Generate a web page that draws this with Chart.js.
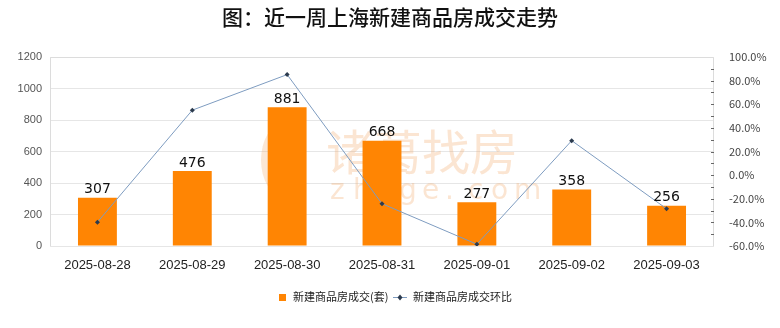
<!DOCTYPE html>
<html>
<head>
<meta charset="utf-8">
<script src="https://cdn.jsdelivr.net/npm/chart.js@4/dist/chart.umd.min.js"></script>
<style>
  html, body { margin: 0; padding: 0; background: #fff; }
  #wrap { position: relative; width: 780px; height: 328px; }
</style>
</head>
<body>
<div id="wrap"><canvas id="chart" width="780" height="328"></canvas></div>
<script>
const chartTitle = '图：近一周上海新建商品房成交走势';
const dates = ['2025-08-28', '2025-08-29', '2025-08-30', '2025-08-31', '2025-09-01', '2025-09-02', '2025-09-03'];
const deals = [307, 476, 881, 668, 277, 358, 256];
const dealChange = [-39.8, 55.0, 85.1, -24.2, -58.5, 29.2, -28.5];
const barLabel = '新建商品房成交(套)';
const lineLabel = '新建商品房成交环比';

const BAR_COLOR = '#ff8503';
const LINE_COLOR = '#7e9cc0';
const POINT_COLOR = '#2c3b4e';

// title, plot frame, watermark, value labels and legend
const decorations = {
  id: 'decorations',
  beforeDatasetsDraw(chart) {
    const { ctx, chartArea: a } = chart;
    ctx.save();
    // watermark
    ctx.fillStyle = 'rgba(242, 170, 105, 0.28)';
    ctx.beginPath();
    ctx.ellipse(283, 160, 22, 36, 0, 0, Math.PI * 2);
    ctx.fill();
    ctx.fillStyle = 'rgba(255, 255, 255, 0.55)';
    ctx.beginPath();
    ctx.ellipse(283, 164, 10, 26, 0, 0, Math.PI * 2);
    ctx.fill();
    ctx.fillStyle = 'rgba(242, 170, 105, 0.3)';
    ctx.font = '48px "Noto Sans CJK SC"';
    ctx.textAlign = 'left';
    ctx.textBaseline = 'middle';
    ctx.fillText('诸葛找房', 326, 152);
    ctx.font = '28px "DejaVu Sans"';
    const mark = 'zhuge.com'.split('');
    mark.forEach((c, i) => ctx.fillText(c, 330 + i * 23, 192));
    // plot frame
    ctx.strokeStyle = '#dcdcdc';
    ctx.lineWidth = 1;
    ctx.beginPath();
    ctx.moveTo(a.left + 0.5, a.bottom);
    ctx.lineTo(a.left + 0.5, a.top + 0.5);
    ctx.lineTo(a.right - 0.5, a.top + 0.5);
    ctx.lineTo(a.right - 0.5, a.bottom);
    ctx.stroke();
    // minor marks on the percent axis
    const y1 = chart.scales.y1;
    ctx.strokeStyle = '#666';
    for (let v = -50; v <= 90; v += 10) {
      const y = Math.round(y1.getPixelForValue(v)) + 0.5;
      ctx.beginPath();
      ctx.moveTo(a.right - 3, y);
      ctx.lineTo(a.right, y);
      ctx.stroke();
    }
    ctx.restore();
  },
  afterDraw(chart) {
    const { ctx } = chart;
    ctx.save();
    // title
    ctx.fillStyle = '#111';
    ctx.font = '500 21px "Noto Sans CJK SC"';
    ctx.textAlign = 'center';
    ctx.textBaseline = 'middle';
    ctx.fillText(chartTitle, 390, 17);
    // bar values
    ctx.font = '14px "DejaVu Sans"';
    ctx.textBaseline = 'bottom';
    const barMeta = chart.getDatasetMeta(1);
    barMeta.data.forEach((bar, i) => {
      ctx.fillText(String(deals[i]), bar.x, bar.y - 1);
    });
    // legend
    ctx.font = '11px "Noto Sans CJK SC"';
    ctx.textAlign = 'left';
    ctx.textBaseline = 'middle';
    const ly = 297;
    ctx.fillStyle = BAR_COLOR;
    ctx.fillRect(279, ly - 3, 7, 7);
    ctx.fillStyle = '#222';
    ctx.fillText(barLabel, 293, ly);
    ctx.strokeStyle = LINE_COLOR;
    ctx.lineWidth = 1;
    ctx.beginPath();
    ctx.moveTo(393, ly + 0.5);
    ctx.lineTo(407, ly + 0.5);
    ctx.stroke();
    ctx.fillStyle = POINT_COLOR;
    ctx.beginPath();
    ctx.moveTo(400, ly - 2.5);
    ctx.lineTo(402.5, ly + 0.5);
    ctx.lineTo(400, ly + 3.5);
    ctx.lineTo(397.5, ly + 0.5);
    ctx.closePath();
    ctx.fill();
    ctx.fillStyle = '#222';
    ctx.fillText(lineLabel, 413, ly);
    ctx.restore();
  }
};

new Chart(document.getElementById('chart').getContext('2d'), {
  type: 'bar',
  data: {
    labels: dates,
    datasets: [
      {
        type: 'line',
        label: lineLabel,
        data: dealChange,
        yAxisID: 'y1',
        borderColor: LINE_COLOR,
        borderWidth: 1,
        tension: 0,
        pointStyle: 'rectRot',
        pointRadius: 2.5,
        pointBackgroundColor: POINT_COLOR,
        pointBorderColor: POINT_COLOR,
        pointBorderWidth: 0,
        order: 0
      },
      {
        type: 'bar',
        label: barLabel,
        data: deals,
        yAxisID: 'y',
        backgroundColor: BAR_COLOR,
        categoryPercentage: 1,
        barPercentage: 0.41,
        order: 1
      }
    ]
  },
  options: {
    responsive: false,
    animation: false,
    layout: { padding: { top: 57, bottom: 52, left: 0, right: 0 } },
    plugins: {
      legend: { display: false },
      title: { display: false },
      tooltip: { enabled: false }
    },
    scales: {
      x: {
        grid: { display: false },
        border: { display: false },
        ticks: {
          color: '#222',
          font: { family: 'Liberation Sans', size: 13 },
          padding: 4,
          maxRotation: 0
        },
        afterFit(scale) { scale.height = 30; }
      },
      y: {
        position: 'left',
        min: 0,
        max: 1200,
        ticks: {
          stepSize: 200,
          color: '#555',
          font: { family: 'Liberation Sans', size: 11 },
          padding: 8,
          callback: (v) => String(v)
        },
        grid: { color: '#e6e6e6', drawTicks: false },
        border: { display: false },
        afterFit(scale) { scale.width = 50; }
      },
      y1: {
        position: 'right',
        min: -60,
        max: 100,
        ticks: {
          stepSize: 20,
          color: '#444',
          font: { family: 'Noto Sans CJK JP', size: 11 },
          padding: 7,
          callback: (v) => v.toFixed(1) + '%'
        },
        grid: { display: false, drawOnChartArea: false },
        border: { display: false },
        afterFit(scale) { scale.width = 66; }
      }
    }
  },
  plugins: [decorations]
});
</script>
</body>
</html>
